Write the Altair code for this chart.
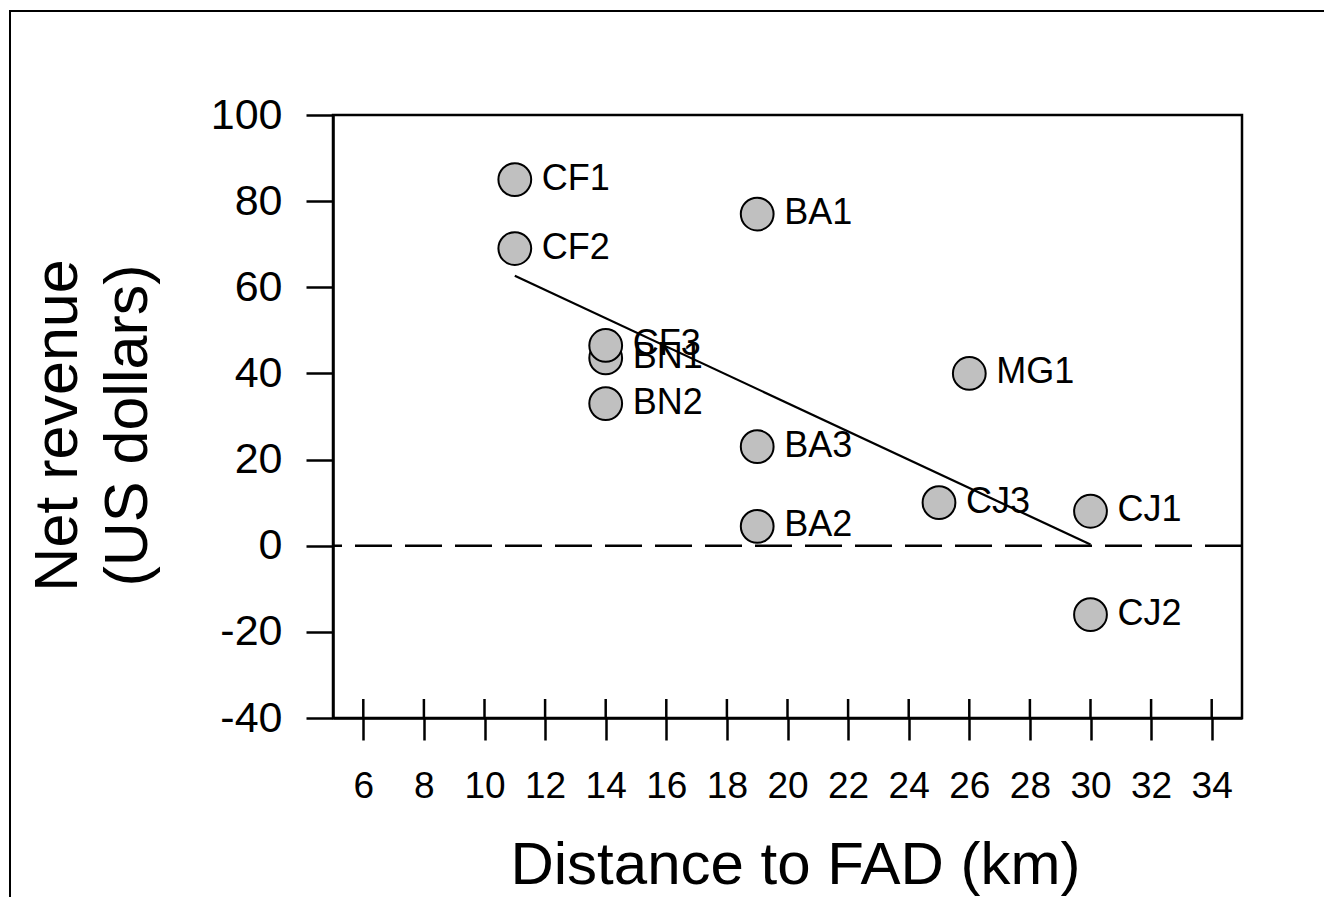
import altair as alt
import pandas as pd

# Data
site = ["CF1", "CF2", "BA1", "BN1", "CF3", "BN2", "MG1", "BA3", "CJ3", "CJ1", "BA2", "CJ2"]
distance = [11, 11, 19, 14, 14, 14, 26, 19, 25, 30, 19, 30]
revenue = [85, 69, 77, 43.6, 46.5, 33, 40, 23, 10, 8, 4.5, -16]

x_ticks = [6, 8, 10, 12, 14, 16, 18, 20, 22, 24, 26, 28, 30, 32, 34]
y_ticks = [-40, -20, 0, 20, 40, 60, 80, 100]

df = pd.DataFrame({"site": site, "distance": distance, "revenue": revenue})
tick_df = pd.DataFrame({"t": x_ticks})
zero_df = pd.DataFrame({"z": [0]})
one_df = pd.DataFrame({"a": [0]})

FONT = "Liberation Sans"
W, H = 909, 603

xscale = alt.Scale(domain=[5, 35], nice=False, zero=False)
yscale = alt.Scale(domain=[-40, 100], nice=False, zero=False)

common = dict(
    grid=False, domainColor="black", domainWidth=2.5, tickColor="black", tickWidth=2.5,
    labelColor="black", titleColor="black", labelFont=FONT, titleFont=FONT,
    labelFlush=False, labelOverlap=False, titleFontWeight="normal",
    labelExpr="'' + datum.value",
)

xaxis = alt.Axis(
    values=x_ticks, title="Distance to FAD (km)", tickSize=22, labelPadding=57,
    labelBaseline="alphabetic", labelFontSize=37, titleFontSize=60,
    titleBaseline="alphabetic", titleX=462, titleY=165, titleAlign="center",
    **common,
)
yaxis = alt.Axis(
    values=y_ticks, title=["Net revenue", "(US dollars)"], tickSize=27, labelPadding=24,
    labelFontSize=43, titleFontSize=61, titleAngle=270,
    titleBaseline="alphabetic", titleAlign="center", titleX=-257, titleY=310,
    titleLineHeight=70, **common,
)

base = alt.Chart(df)

points = base.mark_point(
    shape="circle", filled=True, size=1075, fill="#c0c0c0", stroke="black",
    strokeWidth=2, opacity=1, fillOpacity=1,
).encode(
    x=alt.X("distance:Q", scale=xscale, axis=xaxis),
    y=alt.Y("revenue:Q", scale=yscale, axis=yaxis),
)

labels = base.mark_text(
    align="left", baseline="middle", dx=27, dy=-1, fontSize=36, font=FONT, color="black"
).encode(
    x=alt.X("distance:Q", scale=xscale),
    y=alt.Y("revenue:Q", scale=yscale),
    text="site:N",
)

zero_line = alt.Chart(zero_df).mark_rule(
    color="black", strokeWidth=2.5, strokeDash=[37, 13]
).encode(y=alt.Y("z:Q", scale=yscale))

inner_ticks = alt.Chart(tick_df).mark_rule(color="black", strokeWidth=2.5).encode(
    x=alt.X("t:Q", scale=xscale),
    y=alt.value(H - 19),
    y2=alt.value(H),
)

reg = base.transform_regression(
    "distance", "revenue", extent=[11, 30]
).mark_line(color="black", strokeWidth=2.2).encode(
    x=alt.X("distance:Q", scale=xscale),
    y=alt.Y("revenue:Q", scale=yscale),
)

frame_left = alt.Chart(one_df).mark_rule(color="black", strokeWidth=2).encode(
    x=alt.value(-323), y=alt.value(-104), y2=alt.value(H + 250)
)
frame_top = alt.Chart(one_df).mark_rule(color="black", strokeWidth=2).encode(
    x=alt.value(-324), x2=alt.value(W + 150), y=alt.value(-104)
)

chart = alt.layer(
    zero_line, points, labels, reg, inner_ticks, frame_left, frame_top
).properties(
    width=W, height=H,
    background="white",
    autosize=alt.AutoSizeParams(type="none"),
    padding={"left": 325, "top": 107, "right": 82, "bottom": 179},
).configure_view(
    stroke="black", strokeWidth=2.5, fill="white"
)

chart.save("out.html", embed_options={"renderer": "svg", "actions": False})
